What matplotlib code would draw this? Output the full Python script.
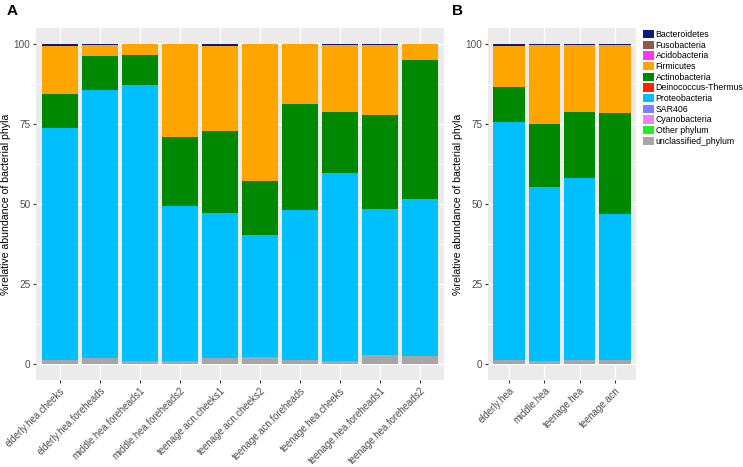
import matplotlib.pyplot as plt
import numpy as np
from matplotlib.patches import Patch

plt.rcParams['font.family'] = ['Liberation Sans', 'DejaVu Sans']

# Panel A samples
samples_a = ["elderly.hea.cheeks", "elderly.hea.foreheads", "middle.hea.foreheads1",
             "middle.hea.foreheads2", "teenage.acn.cheeks1", "teenage.acn.cheeks2",
             "teenage.acn.foreheads", "teenage.hea.cheeks", "teenage.hea.foreheads1",
             "teenage.hea.foreheads2"]
# Panel B groups
samples_b = ["elderly.hea", "middle.hea", "teenage.hea", "teenage.acn"]

# phyla in legend order (top of stack first)
phyla = ["Bacteroidetes", "Fusobacteria", "Acidobacteria", "Firmicutes", "Actinobacteria",
         "Deinococcus-Thermus", "Proteobacteria", "SAR406", "Cyanobacteria",
         "Other phylum", "unclassified_phylum"]
colors = ["#0b1a80", "#8c5a4b", "#ff33ff", "#ffa500", "#008800",
          "#ff2200", "#00bfff", "#8080ff", "#ee82ee", "#22ee22", "#a6a6a6"]

# % abundance per phylum, panel A
bacteroidetes_a = [0.6, 0.2, 0.1, 0.1, 0.5, 0.1, 0.1, 0.2, 0.4, 0.1]
fusobacteria_a = [0, 0, 0, 0, 0, 0, 0, 0, 0, 0]
acidobacteria_a = [0, 0, 0, 0, 0, 0, 0, 0, 0, 0]
firmicutes_a = [15.0, 3.7, 3.4, 29.0, 26.7, 42.8, 18.7, 21.0, 21.9, 5.0]
actinobacteria_a = [10.6, 10.5, 9.3, 21.5, 25.7, 16.8, 33.1, 19.0, 29.2, 43.4]
deinococcus_a = [0, 0, 0, 0, 0, 0, 0, 0, 0, 0]
proteobacteria_a = [72.6, 83.7, 86.2, 48.4, 45.2, 38.0, 47.0, 58.8, 45.6, 49.0]
sar406_a = [0, 0, 0, 0, 0, 0, 0, 0, 0, 0]
cyanobacteria_a = [0, 0, 0, 0, 0, 0, 0, 0, 0, 0]
other_a = [0, 0, 0, 0, 0, 0, 0, 0, 0, 0]
unclassified_a = [1.2, 1.9, 1.0, 1.0, 1.9, 2.3, 1.1, 1.0, 2.9, 2.5]

# % abundance per phylum, panel B
bacteroidetes_b = [0.7, 0.2, 0.2, 0.2]
fusobacteria_b = [0, 0, 0, 0]
acidobacteria_b = [0, 0, 0, 0]
firmicutes_b = [12.8, 24.8, 21.2, 21.4]
actinobacteria_b = [11.0, 19.6, 20.6, 31.4]
deinococcus_b = [0, 0, 0, 0]
proteobacteria_b = [74.3, 54.5, 56.9, 45.8]
sar406_b = [0, 0, 0, 0]
cyanobacteria_b = [0, 0, 0, 0]
other_b = [0, 0, 0, 0]
unclassified_b = [1.2, 0.9, 1.1, 1.2]

data_a = [bacteroidetes_a, fusobacteria_a, acidobacteria_a, firmicutes_a, actinobacteria_a,
          deinococcus_a, proteobacteria_a, sar406_a, cyanobacteria_a, other_a, unclassified_a]
data_b = [bacteroidetes_b, fusobacteria_b, acidobacteria_b, firmicutes_b, actinobacteria_b,
          deinococcus_b, proteobacteria_b, sar406_b, cyanobacteria_b, other_b, unclassified_b]


def stacked(ax, labels, data):
    x = np.arange(1, len(labels) + 1)
    bottom = np.zeros(len(labels))
    # draw from the bottom of the stack (last phylum) upwards
    for vals, col in zip(data[::-1], colors[::-1]):
        vals = np.array(vals, dtype=float)
        ax.bar(x, vals, width=0.9, bottom=bottom, color=col, linewidth=0, zorder=3)
        bottom += vals
    ax.set_facecolor("#ebebeb")
    ax.set_xlim(0.4, len(labels) + 0.6)
    ax.set_ylim(-5, 105)
    ax.set_yticks([0, 25, 50, 75, 100])
    ax.set_yticks([12.5, 37.5, 62.5, 87.5], minor=True)
    ax.set_xticks(x)
    ax.set_xticklabels(labels, rotation=45, ha="right", rotation_mode="anchor")
    ax.grid(which="major", color="white", linewidth=1.0, zorder=0)
    ax.grid(which="minor", axis="y", color="white", linewidth=0.5, zorder=0)
    ax.tick_params(which="major", length=2.5, color="#333333", labelsize=7.2,
                   labelcolor="#4d4d4d", pad=1.5)
    ax.tick_params(axis="x", labelsize=6.9)
    ax.tick_params(which="minor", length=0)
    for s in ax.spines.values():
        s.set_visible(False)
    ax.set_ylabel("%relative abundance of bacterial phyla", fontsize=7.6, labelpad=1.5)


fig = plt.figure(figsize=(7.43, 4.67), dpi=100)
ax_a = fig.add_axes([36 / 743, 1 - 380 / 467, 408 / 743, 352 / 467])
ax_b = fig.add_axes([488 / 743, 1 - 380 / 467, 148 / 743, 352 / 467])
stacked(ax_a, samples_a, data_a)
stacked(ax_b, samples_b, data_b)

fig.text(7 / 743, 1 - 11 / 467, "A", fontsize=11, fontweight="bold", va="center")
fig.text(452 / 743, 1 - 11 / 467, "B", fontsize=11, fontweight="bold", va="center")

handles = [Patch(facecolor=c, edgecolor="none") for c in colors]
fig.legend(handles, phyla, loc="upper left", bbox_to_anchor=(642 / 743, 1 - 29 / 467),
           frameon=False, fontsize=6.3, handlelength=1.25, handleheight=1.1,
           handletextpad=0.2, labelspacing=0.17, borderaxespad=0, borderpad=0.1)

plt.savefig("out.png", dpi=100)
